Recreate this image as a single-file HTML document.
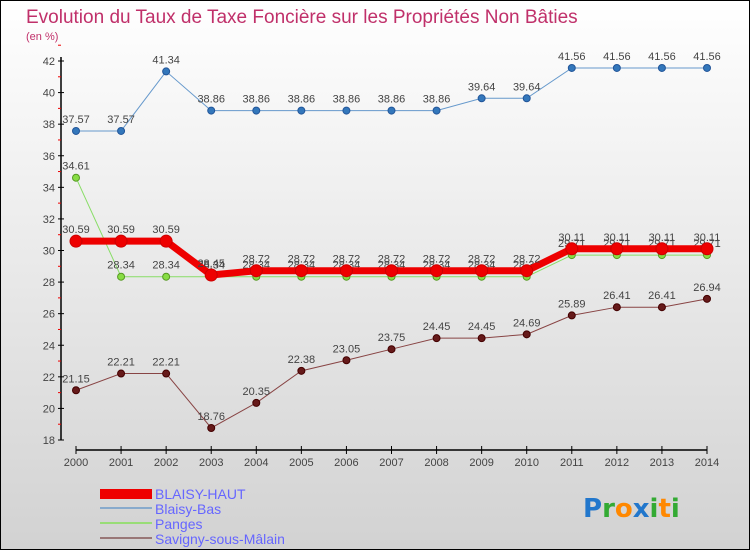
<!DOCTYPE html>
<html><head><meta charset="utf-8"><style>
body{margin:0}
#c{width:750px;height:550px;position:relative;font-family:"Liberation Sans",sans-serif}
</style></head><body>
<div id="c">
<svg id="s" width="750" height="550" xmlns="http://www.w3.org/2000/svg">
<defs><linearGradient id="bg" x1="0" y1="0" x2="0" y2="1"><stop offset="0" stop-color="#ffffff"/><stop offset="1" stop-color="#d2d2d2"/></linearGradient></defs>
<rect x="0.5" y="0.5" width="749" height="549" fill="url(#bg)" stroke="#000"/>
<text x="26" y="23" font-size="19" fill="#c0306a">Evolution du Taux de Taxe Foncière sur les Propriétés Non Bâties</text>
<text x="26" y="40" font-size="11" fill="#c0306a">(en %)</text>
<g id="axes"></g><g id="series"></g>
<g>
<rect x="100" y="489" width="52" height="10" fill="#ee0000"/>
<text x="155" y="499" font-size="14" fill="#6666ff">BLAISY-HAUT</text>
<rect x="100" y="507" width="52" height="2" fill="#88aacc"/>
<text x="155" y="514" font-size="14" fill="#6666ff">Blaisy-Bas</text>
<rect x="100" y="522" width="52" height="2" fill="#99dd77"/>
<text x="155" y="529" font-size="14" fill="#6666ff">Panges</text>
<rect x="100" y="537" width="52" height="2" fill="#997777"/>
<text x="155" y="544" font-size="14" fill="#6666ff">Savigny-sous-Mâlain</text>
</g>
<g font-size="26" font-family="DejaVu Sans" font-weight="bold">
<text x="583" y="517"><tspan fill="#2277cc">P</tspan><tspan fill="#33aa33">r</tspan><tspan fill="#ff8800">o</tspan><tspan fill="#2277cc">x</tspan><tspan fill="#33aa33">i</tspan><tspan fill="#ff8800">t</tspan><tspan fill="#33aa33">i</tspan></text>
</g>
</svg></div>
<script>
const years=[2000,2001,2002,2003,2004,2005,2006,2007,2008,2009,2010,2011,2012,2013,2014];
const yTicks=[18,20,22,24,26,28,30,32,34,36,38,40,42];
const blaisyHaut=[30.59,30.59,30.59,28.45,28.72,28.72,28.72,28.72,28.72,28.72,28.72,30.11,30.11,30.11,30.11];
const blaisyBas=[37.57,37.57,41.34,38.86,38.86,38.86,38.86,38.86,38.86,39.64,39.64,41.56,41.56,41.56,41.56];
const panges=[34.61,28.34,28.34,28.34,28.34,28.34,28.34,28.34,28.34,28.34,28.34,29.71,29.71,29.71,29.71];
const savigny=[21.15,22.21,22.21,18.76,20.35,22.38,23.05,23.75,24.45,24.45,24.69,25.89,26.41,26.41,26.94];
const NS="http://www.w3.org/2000/svg";
const X=i=>76+i*(707-76)/14;
const Y=v=>440-(v-18)*(440-61)/24;
function mk(t,a,p){const e=document.createElementNS(NS,t);for(const k in a)e.setAttribute(k,a[k]);p.appendChild(e);return e;}
const ax=document.getElementById('axes');
let l=mk('line',{x1:61,y1:Y(42)-4,x2:61,y2:440,stroke:'#000','stroke-width':1.5},ax);


yTicks.forEach(v=>{
 mk('line',{x1:58,x2:64,y1:Y(v),y2:Y(v),stroke:'#000'},ax);
 mk('line',{x1:58,x2:61,y1:Y(v+1),y2:Y(v+1),stroke:'#e00'},ax);
 const t=mk('text',{x:55,y:Y(v)+4,'font-size':11,fill:'#444','text-anchor':'end'},ax);
 t.textContent=v;
 
 
});
l=mk('line',{x1:X(0),y1:450,x2:X(14),y2:450,stroke:'#000','stroke-width':1.5},ax);


years.forEach((y,i)=>{
 mk('line',{x1:X(i),x2:X(i),y1:446,y2:454,stroke:'#000'},ax);
 const t=mk('text',{x:X(i),y:466,'font-size':11,fill:'#444','text-anchor':'middle'},ax);
 t.textContent=y;
 
 
});
const sg=document.getElementById('series');
function draw(vals,name,color,w,r,dot,dstroke){
 const g=mk('g',{},sg);
 
 
 const p=mk('polyline',{points:vals.map((v,i)=>X(i)+','+Y(v)).join(' '),fill:'none',stroke:color,'stroke-width':w},g);
 
 
 vals.forEach((v,i)=>{
  const c=mk('circle',{cx:X(i),cy:Y(v),r:r,fill:dot,stroke:dstroke,'stroke-width':1},g);
  
  
  const t=mk('text',{x:X(i),y:Y(v)-8,'font-size':11,fill:'#444','text-anchor':'middle'},g);
  t.textContent=v.toFixed(2);
  
  
 });
}
draw(savigny,'savigny','#884444',1,3.5,'#661a1a','#440000');
draw(panges,'panges','#88dd66',1,3.5,'#88dd44','#559922');
draw(blaisyBas,'blaisy-bas','#6699cc',1,3.5,'#3377bb','#225599');
draw(blaisyHaut,'blaisy-haut','#ee0000',7,6,'#ee0000','#cc0000');
</script>
</body></html>
